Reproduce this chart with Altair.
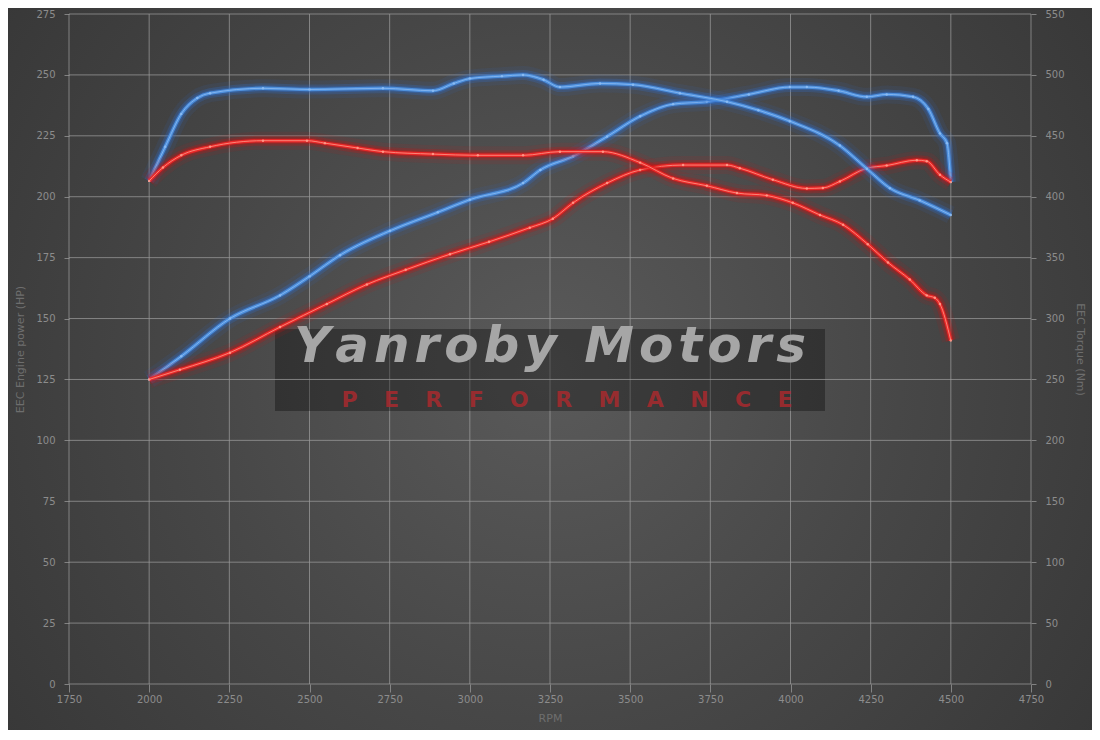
import altair as alt
import pandas as pd

# ---- data ----
rpm_power_tuned = [2000, 2100, 2252, 2408, 2500, 2595, 2751, 2900, 3000, 3166, 3220, 3322, 3428,
                   3531, 3634, 3739, 3870, 3998, 4051, 4150, 4238, 4300, 4382, 4430, 4466, 4488, 4500]
hp_power_tuned = [125, 134.5, 150, 159.5, 167.3, 176, 186, 193.6, 198.8, 205.6, 211, 216.6, 224.7,
                  233, 238, 239, 242, 245, 245, 243.5, 241, 242, 241, 236, 226, 222, 206]

rpm_power_stock = [2000, 2096, 2252, 2408, 2554, 2679, 2800, 2938, 3060, 3187, 3259, 3322, 3428,
                   3531, 3665, 3802, 3842, 3945, 4051, 4101, 4154, 4238, 4300, 4394, 4425, 4466, 4500]
hp_power_stock = [125, 129, 136, 146.5, 156, 164, 170, 176.4, 181.5, 187.3, 191, 197.5, 205.6,
                  211, 213, 213, 211.7, 207, 203.4, 203.6, 206.3, 211.7, 212.8, 215, 214.6, 209, 206]

rpm_torque_tuned = [2000, 2050, 2100, 2150, 2190, 2355, 2500, 2729, 2885, 2950, 3000, 3100, 3166,
                    3230, 3281, 3406, 3509, 3655, 3802, 3900, 3998, 4154, 4238, 4310, 4403, 4500]
nm_torque_tuned = [413, 441, 468, 481, 485, 489, 488, 489, 487, 493, 497, 499, 500,
                   496, 490, 493, 492, 485, 478, 471, 462, 442, 423, 407, 397, 385]

rpm_torque_stock = [2000, 2043, 2100, 2190, 2355, 2492, 2548, 2650, 2729, 2885, 3025, 3166, 3281,
                    3415, 3531, 3634, 3739, 3833, 3926, 4007, 4092, 4164, 4241, 4304, 4372, 4425,
                    4450, 4466, 4500]
nm_torque_stock = [413, 424, 434, 441, 446, 446, 444, 440, 437, 435, 434, 434, 437,
                   437, 428, 415, 409, 403, 401, 395, 385, 377, 361, 346, 332, 319,
                   317, 312, 282]

x_ticks = list(range(1750, 4751, 250))
hp_ticks = list(range(0, 276, 25))
nm_ticks = list(range(0, 551, 50))

BRAND = "Yanroby Motors"
TAGLINE = "PERFORMANCE"

BLUE_GLOW, BLUE_CORE, BLUE_CENTER = "#2f6fd0", "#4f92e0", "#8cbcf4"
RED_GLOW, RED_CORE, RED_CENTER = "#d01010", "#ee2828", "#ff9a8a"
GRID = "#9a9a9a"

W, H = 962, 670
PAD = {"left": 61, "top": 6, "right": 61, "bottom": 46}


def frame(rpms, vals):
    return pd.DataFrame({"rpm": rpms, "value": vals})


x_scale = alt.Scale(domain=[1750, 4750], nice=False, zero=False)
hp_scale = alt.Scale(domain=[0, 275], nice=False)
nm_scale = alt.Scale(domain=[0, 550], nice=False)

x_axis = alt.Axis(values=x_ticks, format="d", title="RPM", grid=False, zindex=1, labelFlush=False,
                  tickSize=8, labelPadding=2, titlePadding=8)
hp_axis = alt.Axis(values=hp_ticks, orient="left", title="EEC Engine power (HP)", labelFlush=False,
                   grid=False, zindex=1, tickSize=5, labelPadding=9, titlePadding=10)
nm_axis = alt.Axis(values=nm_ticks, orient="right", title="EEC Torque (Nm)", labelFlush=False,
                   grid=False, zindex=1, tickSize=5, labelPadding=9, titlePadding=10)

x_enc = alt.X("rpm:Q", scale=x_scale, axis=x_axis)
y_hp = alt.Y("value:Q", scale=hp_scale, axis=hp_axis)
y_nm = alt.Y("value:Q", scale=nm_scale, axis=nm_axis)


def glow_layers(df, y_enc, glow, core, center):
    base = alt.Chart(df).encode(x=x_enc, y=y_enc)
    return [
        base.mark_line(interpolate="monotone", color=glow, strokeWidth=18, opacity=0.1),
        base.mark_line(interpolate="monotone", color=glow, strokeWidth=10, opacity=0.25),
        base.mark_line(interpolate="monotone", color=glow, strokeWidth=6, opacity=0.35),
        base.mark_line(interpolate="monotone", color=core, strokeWidth=3.4, opacity=0.95),
        base.mark_line(interpolate="monotone", color=center, strokeWidth=1, opacity=0.8),
        base.mark_point(filled=True, size=6, color=center, opacity=0.9),
    ]


one = pd.DataFrame({"k": [0]})
backdrop = alt.Chart(one).mark_rect(
    color=alt.RadialGradient(
        gradient="radial",
        stops=[alt.GradientStop(color="#5a5a5a", offset=0),
               alt.GradientStop(color="#474747", offset=0.45),
               alt.GradientStop(color="#323232", offset=1)],
        x1=0.5, y1=0.5, r1=0, x2=0.5, y2=0.5, r2=0.72)
).encode(x=alt.value(-PAD["left"]), x2=alt.value(W + PAD["right"]),
         y=alt.value(-PAD["top"]), y2=alt.value(H + PAD["bottom"]))

vgrid = alt.Chart(pd.DataFrame({"rpm": x_ticks})).mark_rule(
    color=GRID, opacity=0.75, strokeWidth=1).encode(x=x_enc)
hgrid = alt.Chart(pd.DataFrame({"value": hp_ticks})).mark_rule(
    color=GRID, opacity=0.75, strokeWidth=1).encode(y=y_hp)

wm_box = alt.Chart(one).mark_rect(color="#000000", opacity=0.32).encode(
    x=alt.value(206), x2=alt.value(756), y=alt.value(315), y2=alt.value(397))
wm_title = alt.Chart(one).mark_text(
    text="\u200a".join(BRAND), font="DejaVu Sans", fontWeight="bold", fontStyle="italic",
    fontSize=50, color="#a6a6a6", align="center", baseline="alphabetic").encode(
    x=alt.value(481), y=alt.value(348))
wm_sub = alt.Chart(one).mark_text(
    text="\u2003\u2009".join(TAGLINE), font="DejaVu Sans", fontWeight="bold",
    fontSize=22, color="#a82a2e", opacity=0.85, align="center", baseline="alphabetic").encode(
    x=alt.value(498), y=alt.value(393))

power = alt.layer(
    hgrid,
    *glow_layers(frame(rpm_power_tuned, hp_power_tuned), y_hp, BLUE_GLOW, BLUE_CORE, BLUE_CENTER),
    *glow_layers(frame(rpm_power_stock, hp_power_stock), y_hp, RED_GLOW, RED_CORE, RED_CENTER),
)
torque = alt.layer(
    *glow_layers(frame(rpm_torque_tuned, nm_torque_tuned), y_nm, BLUE_GLOW, BLUE_CORE, BLUE_CENTER),
    *glow_layers(frame(rpm_torque_stock, nm_torque_stock), y_nm, RED_GLOW, RED_CORE, RED_CENTER),
)

chart = alt.layer(backdrop, vgrid, wm_box, wm_title, wm_sub, power, torque).resolve_scale(
    y="independent"
).properties(
    width=W, height=H,
    padding=PAD,
    autosize=alt.AutoSizeParams(type="none"),
    background="#343434",
).configure_view(
    stroke="transparent",
).configure_axis(
    domain=False,
    tickColor=GRID, tickOpacity=0.75,
    labelColor="#8c8c8c", labelFont="DejaVu Sans", labelFontSize=10,
    titleColor="#6e6e6e", titleFont="DejaVu Sans", titleFontSize=11, titleFontWeight="normal",
)

chart.save("out.html", embed_options={"renderer": "svg", "actions": False})
